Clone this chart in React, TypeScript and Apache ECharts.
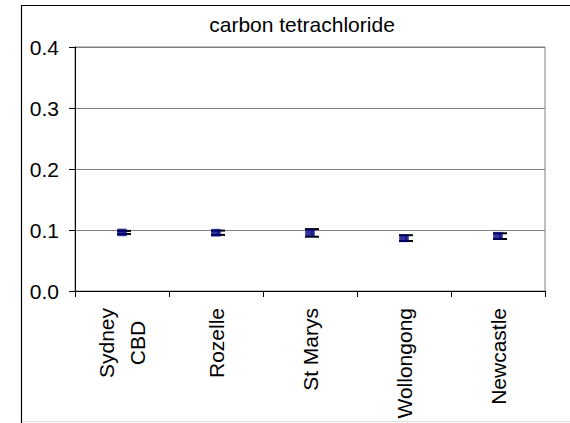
import React, { useEffect, useRef } from "react";
import * as echarts from "echarts";

const title = "carbon tetrachloride";
const categories = ["Sydney\nCBD", "Rozelle", "St Marys", "Wollongong", "Newcastle"];
const means = [0.096, 0.0955, 0.0955, 0.0865, 0.0905];
const lowers = [0.0935, 0.092, 0.089, 0.082, 0.0852];
const uppers = [0.0985, 0.099, 0.1015, 0.0915, 0.0946];
const yTicks = { min: 0, max: 0.4, interval: 0.1 };

const FONT = "'Liberation Sans', Arial, sans-serif";

export default function App() {
  const ref = useRef<HTMLDivElement>(null);
  useEffect(() => {
    if (!ref.current) return;
    const chart = echarts.init(ref.current, null, { renderer: "svg" });
    const errData = categories.map((_, i) => [i, lowers[i], uppers[i]]);
    chart.setOption({
      animation: false,
      backgroundColor: "#ffffff",
      textStyle: { fontFamily: FONT },
      graphic: [
        {
          type: "rect",
          shape: { x: 21.5, y: 5.5, width: 700, height: 700 },
          style: { fill: "none", stroke: "#000", lineWidth: 1.2 },
          silent: true,
        },
        {
          type: "line",
          shape: { x1: 22, y1: 421.5, x2: 570, y2: 421.5 },
          style: { stroke: "#dcdcdc", lineWidth: 1 },
          silent: true,
        },
        {
          type: "text",
          x: 302,
          y: 24,
          style: {
            text: title,
            fontSize: 21,
            fontFamily: FONT,
            fill: "#000",
            textAlign: "center",
            textVerticalAlign: "middle",
          },
        },
      ],
      grid: {
        left: 75,
        top: 47,
        right: 25,
        bottom: 132,
        show: true,
        borderColor: "#808080",
        borderWidth: 1,
        backgroundColor: "transparent",
      },
      xAxis: {
        type: "category",
        data: categories,
        boundaryGap: true,
        axisLine: { show: true, lineStyle: { color: "#000", width: 1 } },
        axisTick: { show: true, length: 6, lineStyle: { color: "#000" } },
        axisLabel: {
          rotate: 90,
          margin: 17,
          interval: 0,
          color: "#000",
          fontSize: 21,
          fontFamily: FONT,
          formatter: (v: string) =>
            v
              .split("\n")
              .map((s) => "{c|" + s + "}")
              .join("\n"),
          rich: {
            c: { align: "center", fontSize: 21, fontFamily: FONT, color: "#000", lineHeight: 31 },
          },
        },
        splitLine: { show: false },
      },
      yAxis: {
        type: "value",
        min: yTicks.min,
        max: yTicks.max,
        interval: yTicks.interval,
        axisLine: { show: true, lineStyle: { color: "#000", width: 1 } },
        axisTick: { show: true, length: 6, lineStyle: { color: "#000" } },
        axisLabel: {
          margin: 16,
          color: "#000",
          fontSize: 21,
          fontFamily: FONT,
          formatter: (v: number) => v.toFixed(1),
        },
        splitLine: { show: true, lineStyle: { color: "#808080", width: 1 } },
      },
      series: [
        {
          type: "custom",
          z: 2,
          data: errData,
          encode: { x: 0, y: [1, 2] },
          renderItem: (params: any, api: any) => {
            const i = api.value(0);
            const lo = api.coord([i, api.value(1)]);
            const hi = api.coord([i, api.value(2)]);
            const cx = lo[0];
            const style = { stroke: "#000", lineWidth: 2 };
            return {
              type: "group",
              children: [
                { type: "line", shape: { x1: cx + 2, y1: hi[1], x2: cx + 2, y2: lo[1] }, style: { stroke: "#000", lineWidth: 1 } },
                { type: "line", shape: { x1: cx - 5, y1: hi[1], x2: cx + 9, y2: hi[1] }, style },
                { type: "line", shape: { x1: cx - 5, y1: lo[1], x2: cx + 9, y2: lo[1] }, style },
              ],
            };
          },
        },
        {
          type: "scatter",
          z: 3,
          data: means,
          symbol: "rect",
          symbolSize: [9, 7],
          itemStyle: { color: "#000080", borderColor: "#000080", borderWidth: 0.5 },
        },
      ],
    });
    return () => chart.dispose();
  }, []);
  return (
    <div
      ref={ref}
      style={{ position: "fixed", left: 0, top: 0, width: 570, height: 423 }}
    />
  );
}
